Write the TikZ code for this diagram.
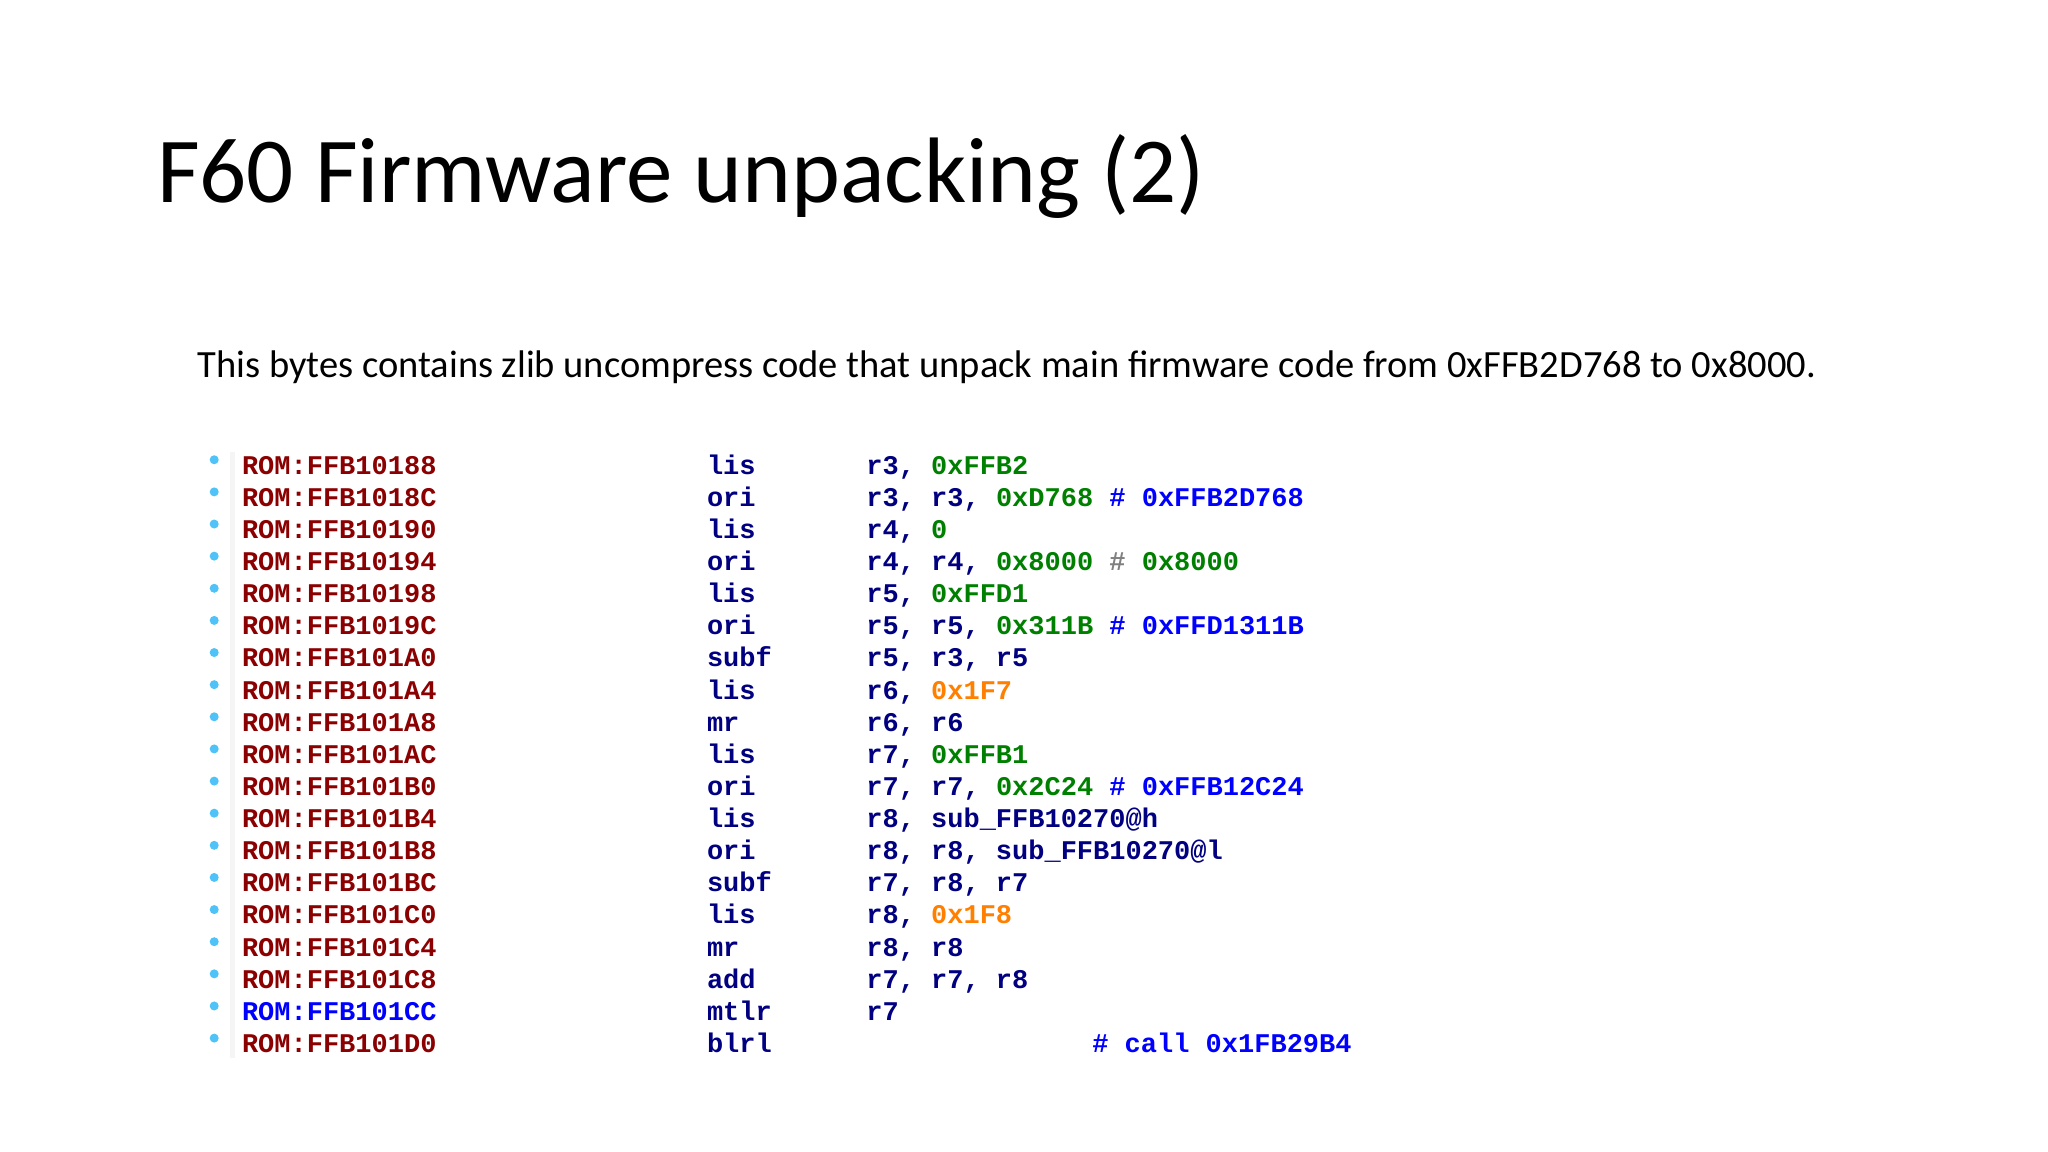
\documentclass[tikz,border=0pt]{standalone}
\usepackage{fontspec}
\setmainfont{Carlito}
\newfontfamily\codefont{Liberation Mono}[BoldFont={Liberation Mono Bold}]
\definecolor{addr}{HTML}{8B0000}
\definecolor{mnem}{HTML}{000080}
\definecolor{num}{HTML}{008000}
\definecolor{cmt}{HTML}{0000FF}
\definecolor{orn}{HTML}{FF8000}
\definecolor{dot}{HTML}{4FC3F7}
\tikzset{
 code/.style={anchor=base west,inner sep=0pt,font=\codefont\bfseries\fontsize{13.5}{14}\selectfont,text=mnem},
 bul/.style={circle,fill=dot,inner sep=0pt,minimum size=4.5pt}
}
\newcommand{\N}[1]{\textcolor{num}{#1}}
\newcommand{\C}[1]{\textcolor{cmt}{#1}}
\newcommand{\Or}[1]{\textcolor{orn}{#1}}
\begin{document}
\begin{tikzpicture}[x=0.653pt,y=-0.653pt]
\useasboundingbox (0,0) rectangle (1568,882);
\fill[white] (0,0) rectangle (1568,882);
\node[anchor=base west,inner sep=0pt,font=\fontsize{46.5}{50}\selectfont] (title) at (120,155) {F60 Firmware unpacking (2)};
\node[anchor=base west,inner sep=0pt,font=\fontsize{19.25}{22}\selectfont] (sub) at (151,289) {This bytes contains zlib uncompress code that unpack main firmware code from 0xFFB2D768 to 0x8000.};
\fill[gray!8] (176,346) rectangle (180,810);
\foreach \i/\m/\o [count=\k from 0] in {
 {\textcolor{addr}{ROM:FFB10188}}/lis/{r3, \N{0xFFB2}},
 {\textcolor{addr}{ROM:FFB1018C}}/ori/{r3, r3, \N{0xD768} \C{\# 0xFFB2D768}},
 {\textcolor{addr}{ROM:FFB10190}}/lis/{r4, \N{0}},
 {\textcolor{addr}{ROM:FFB10194}}/ori/{r4, r4, \N{0x8000} \textcolor{gray}{\#} \N{0x8000}},
 {\textcolor{addr}{ROM:FFB10198}}/lis/{r5, \N{0xFFD1}},
 {\textcolor{addr}{ROM:FFB1019C}}/ori/{r5, r5, \N{0x311B} \C{\# 0xFFD1311B}},
 {\textcolor{addr}{ROM:FFB101A0}}/subf/{r5, r3, r5},
 {\textcolor{addr}{ROM:FFB101A4}}/lis/{r6, \Or{0x1F7}},
 {\textcolor{addr}{ROM:FFB101A8}}/mr/{r6, r6},
 {\textcolor{addr}{ROM:FFB101AC}}/lis/{r7, \N{0xFFB1}},
 {\textcolor{addr}{ROM:FFB101B0}}/ori/{r7, r7, \N{0x2C24} \C{\# 0xFFB12C24}},
 {\textcolor{addr}{ROM:FFB101B4}}/lis/{r8, sub\_FFB10270@h},
 {\textcolor{addr}{ROM:FFB101B8}}/ori/{r8, r8, sub\_FFB10270@l},
 {\textcolor{addr}{ROM:FFB101BC}}/subf/{r7, r8, r7},
 {\textcolor{addr}{ROM:FFB101C0}}/lis/{r8, \Or{0x1F8}},
 {\textcolor{addr}{ROM:FFB101C4}}/mr/{r8, r8},
 {\textcolor{addr}{ROM:FFB101C8}}/add/{r7, r7, r8},
 {\C{ROM:FFB101CC}}/mtlr/{r7},
 {\textcolor{addr}{ROM:FFB101D0}}/blrl/{}
}{
 \node[bul] (b\k) at (164,{352+24.6*\k}) {};
 \node[code] (a\k) at (185,{363+24.6*\k}) {\i};
 \node[code] (m\k) at (541,{363+24.6*\k}) {\m};
 \node[code] (o\k) at (663,{363+24.6*\k}) {\o};
}
\node[code] (c18) at (836,{363+24.6*18}) {\C{\# call 0x1FB29B4}};
\end{tikzpicture}
\end{document}
